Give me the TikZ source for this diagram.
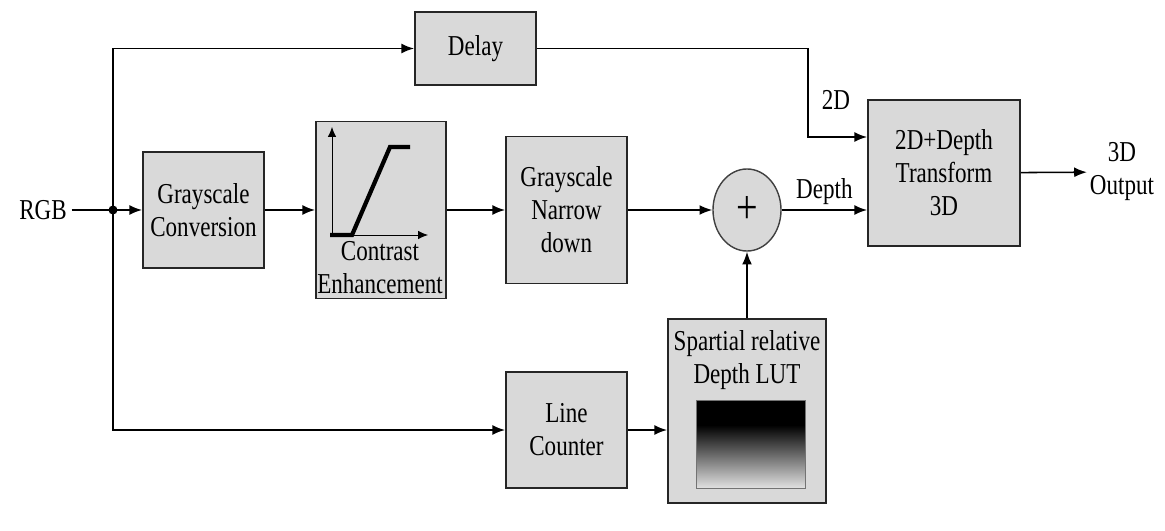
\documentclass[tikz,border=0pt]{standalone}
\usepackage{fontspec}
\setmainfont{Liberation Serif}[FakeStretch=0.8]
\usetikzlibrary{arrows.meta}
\usetikzlibrary{positioning}
\usepgflibrary{shapes.geometric}

\tikzset{
  blk/.style={draw=black!85,line width=1.3pt,fill=black!15,align=center,inner sep=2pt},
  flow/.style={line width=1.1pt,-{Latex[length=9pt,width=7pt]}},
  wire/.style={line width=1.1pt}
}

\begin{document}
\begin{tikzpicture}[x=0.025cm,y=-0.025cm,font=\fontsize{20.5}{23.5}\selectfont]
  \useasboundingbox (0,0) rectangle (1165,531);
  % blocks
  \node (rgb) at (43,210) {RGB};
  \node[blk,minimum width=3.025cm,minimum height=1.825cm](delay) at (475.5,48.5) {Delay};
  \node[blk,minimum width=3.025cm,minimum height=2.9cm](gconv) at (203.5,210) {Grayscale\\Conversion};
  \node[blk,minimum width=3.25cm,minimum height=4.425cm](enh) at (381,210) {};
  \node[align=center](enhtxt) at (380,268) {Contrast\\Enhancement};
  \node[blk,minimum width=3.025cm,minimum height=3.675cm](narrow) at (566.5,210) {Grayscale\\Narrow\\down};
  \node[draw=black!75,line width=1pt,fill=black!15,ellipse,minimum width=1.7cm,minimum height=2.05cm,inner sep=0pt](sum) at (747,210) {\fontsize{34}{34}\selectfont +};
  \node[blk,minimum width=3.025cm,minimum height=2.9cm](lcount) at (566.5,430) {Line\\Counter};
  \node[blk,minimum width=3.95cm,minimum height=4.6cm](lut) at (747,411) {};
  \node[align=center](luttxt) at (747,360) {Spartial relative\\Depth LUT};
  \node[blk,minimum width=3.8cm,minimum height=3.65cm](trans) at (944,173) {2D+Depth\\Transform\\3D};
  \node[align=center,inner sep=2pt](out) at (1122,172) {3D\\Output};
  \node (lbl2d) at (836,100) {2D};
  % curve inside the contrast block
  \coordinate (org) at (332,235);
  \draw[line width=0.6pt,-{Latex[length=7pt,width=6pt]}] (org) -- (332,127);
  \draw[line width=0.6pt,-{Latex[length=7pt,width=6pt]}] (org) -- (428,235);
  \draw[line width=3pt] (330,235) -- (352,235) -- (390,147) -- (410,147);
  % depth table
  \fill[black] (696,400) rectangle (805,426);
  \shade[top color=black,bottom color=black!12] (696,425) rectangle (805,488);
  \draw[black!55,line width=0.6pt] (696,400) rectangle (805,488);
  % connections
  \coordinate (split) at (113,210);
  \coordinate (knee) at (808,137);
  \draw[wire] (rgb) -- (split);
  \fill (split) circle (3.2pt);
  \draw[flow] (split) -- (gconv);
  \draw[flow] (split) |- (delay);
  \draw[flow] (split) |- (lcount);
  \draw[flow] (gconv) -- (enh);
  \draw[flow] (enh) -- (narrow);
  \draw[flow] (narrow) -- (sum);
  \draw[flow] (sum) -- node[above]{Depth} (sum -| trans.west);
  \draw[flow] (delay) -| (knee) -- (knee -| trans.west);
  \draw[flow] (lcount) -- (lcount -| lut.west);
  \draw[flow] (lut) -- (sum);
  \draw[flow] (trans) -- (out);
\end{tikzpicture}
\end{document}
